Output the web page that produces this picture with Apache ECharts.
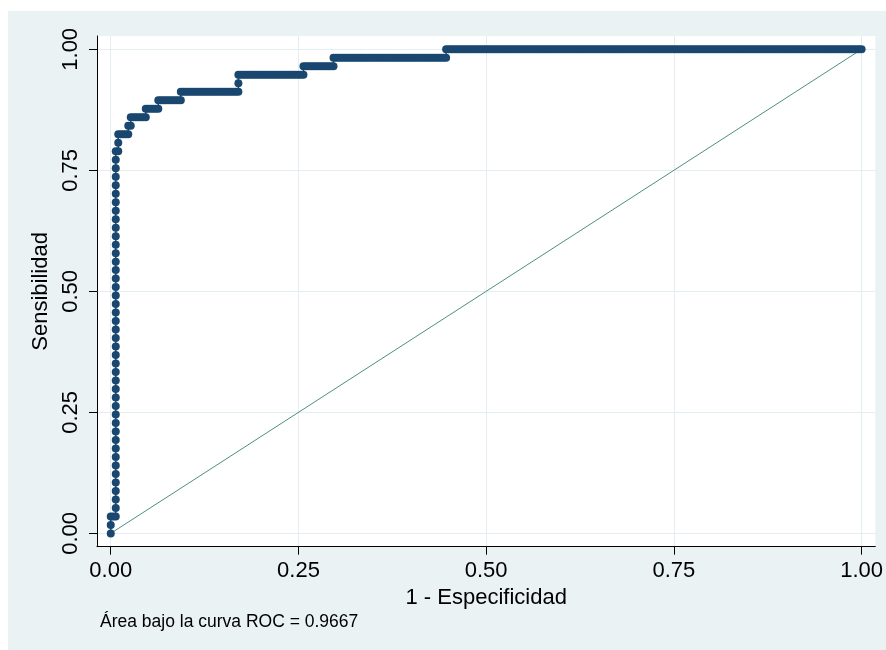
<!DOCTYPE html>
<html><head><meta charset="utf-8">
<script src="https://cdn.jsdelivr.net/npm/echarts@6/dist/echarts.min.js"></script>
<style>html,body{margin:0;padding:0;background:#fff}#c{width:886px;height:650px}</style>
</head><body><div id="c"></div>
<script>
// ROC: cumulative counts of false positives (of nNeg) and true positives (of nPos) at each cutpoint
const nNeg = 300;
const nPos = 57;
const falsePosCounts = [
  0,0,0,1,2,
  2,2,2,2,2,2,2,2,2,2,
  2,2,2,2,2,2,2,2,2,2,
  2,2,2,2,2,2,2,2,2,2,
  2,2,2,2,2,2,2,2,2,2,
  2,2,2,
  3,3,3,4,5,6,7,7,8,8,
  9,10,11,12,13,14,14,15,16,17,18,19,19,
  20,21,22,23,24,25,26,27,28,28,
  29,30,31,32,33,34,35,36,37,38,39,40,41,42,43,44,45,46,47,48,49,50,51,
  51,51,
  52,53,54,55,56,57,58,59,60,61,62,63,64,65,66,67,68,69,70,71,72,73,74,75,76,77,
  77,
  78,79,80,81,82,83,84,85,86,87,88,89,
  89,
  90,91,92,93,94,95,96,97,98,99,100,101,102,103,104,105,106,107,108,109,
  110,111,112,113,114,115,116,117,118,119,120,121,122,123,124,125,126,127,128,129,
  130,131,132,133,134,
  134,
  135,136,137,138,139,140,141,142,143,144,145,146,147,148,149,150,151,152,153,154,
  155,156,157,158,159,160,161,162,163,164,165,166,167,168,169,170,171,172,173,174,
  175,176,177,178,179,180,181,182,183,184,185,186,187,188,189,190,191,192,193,194,
  195,196,197,198,199,200,201,202,203,204,205,206,207,208,209,210,211,212,213,214,
  215,216,217,218,219,220,221,222,223,224,225,226,227,228,229,230,231,232,233,234,
  235,236,237,238,239,240,241,242,243,244,245,246,247,248,249,250,251,252,253,254,
  255,256,257,258,259,260,261,262,263,264,265,266,267,268,269,270,271,272,273,274,
  275,276,277,278,279,280,281,282,283,284,285,286,287,288,289,290,291,292,293,294,
  295,296,297,298,299,300
];
const truePosCounts = [
  0,1,2,2,2,
  3,4,5,6,7,8,9,10,11,12,
  13,14,15,16,17,18,19,20,21,22,
  23,24,25,26,27,28,29,30,31,32,
  33,34,35,36,37,38,39,40,41,42,
  43,44,45,
  45,46,47,47,47,47,47,48,48,49,
  49,49,49,49,49,49,50,50,50,50,50,50,51,
  51,51,51,51,51,51,51,51,51,52,
  52,52,52,52,52,52,52,52,52,52,52,52,52,52,52,52,52,52,52,52,52,52,52,
  53,54,
  54,54,54,54,54,54,54,54,54,54,54,54,54,54,54,54,54,54,54,54,54,54,54,54,54,54,
  55,
  55,55,55,55,55,55,55,55,55,55,55,55,
  56,
  56,56,56,56,56,56,56,56,56,56,56,56,56,56,56,56,56,56,56,56,
  56,56,56,56,56,56,56,56,56,56,56,56,56,56,56,56,56,56,56,56,
  56,56,56,56,56,
  57,
  57,57,57,57,57,57,57,57,57,57,57,57,57,57,57,57,57,57,57,57,
  57,57,57,57,57,57,57,57,57,57,57,57,57,57,57,57,57,57,57,57,
  57,57,57,57,57,57,57,57,57,57,57,57,57,57,57,57,57,57,57,57,
  57,57,57,57,57,57,57,57,57,57,57,57,57,57,57,57,57,57,57,57,
  57,57,57,57,57,57,57,57,57,57,57,57,57,57,57,57,57,57,57,57,
  57,57,57,57,57,57,57,57,57,57,57,57,57,57,57,57,57,57,57,57,
  57,57,57,57,57,57,57,57,57,57,57,57,57,57,57,57,57,57,57,57,
  57,57,57,57,57,57,57,57,57,57,57,57,57,57,57,57,57,57,57,57,
  57,57,57,57,57,57
];
const refLineX = [0, 1];
const refLineY = [0, 1];
const tickValues = [0, 0.25, 0.5, 0.75, 1];
const tickLabels = ['0.00', '0.25', '0.50', '0.75', '1.00'];
const xTitle = '1 - Especificidad';
const yTitle = 'Sensibilidad';
const noteText = 'Área bajo la curva ROC = 0.9667';

const rocPoints = falsePosCounts.map((f, i) => [f / nNeg, truePosCounts[i] / nPos]);
const refPoints = refLineX.map((x, i) => [x, refLineY[i]]);
const fmt = v => { const i = tickValues.findIndex(t => Math.abs(t - v) < 1e-9); return i >= 0 ? tickLabels[i] : ''; };
const FONT = "'Liberation Sans', Arial, sans-serif";
const BG = '#EAF2F3';

const chart = echarts.init(document.getElementById('c'), null, { renderer: 'canvas' });
chart.setOption({
  animation: false,
  backgroundColor: BG,
  textStyle: { fontFamily: FONT },
  graphic: [
    { type: 'rect', shape: { x: 0, y: 0, width: 886, height: 11 }, style: { fill: '#fff' }, silent: true },
    { type: 'rect', shape: { x: 0, y: 0, width: 8, height: 650 }, style: { fill: '#fff' }, silent: true },
    { type: 'text', left: 100, top: 613, style: { text: noteText, font: '17.5px ' + FONT, fill: '#000' }, silent: true }
  ],
  grid: { left: 97, right: 9, top: 36, bottom: 103.3, show: true, backgroundColor: '#fff', borderWidth: 0 },
  xAxis: {
    type: 'value', min: -0.0183, max: 1.0183,
    axisLine: { show: true, onZero: false, lineStyle: { color: '#000', width: 1 } },
    axisTick: { show: true, customValues: tickValues, length: 8, lineStyle: { color: '#000' } },
    axisLabel: { customValues: tickValues, formatter: fmt, fontSize: 22, color: '#000', margin: 13, fontFamily: FONT },
    splitLine: { show: true, lineStyle: { color: '#E4EDEF', width: 1 } },
    name: xTitle, nameLocation: 'middle', nameGap: 31,
    nameTextStyle: { fontSize: 22, color: '#000', fontFamily: FONT }
  },
  yAxis: {
    type: 'value', min: -0.0275, max: 1.0275,
    axisLine: { show: true, onZero: false, lineStyle: { color: '#000', width: 1 } },
    axisTick: { show: true, customValues: tickValues, length: 8, lineStyle: { color: '#000' } },
    axisLabel: { customValues: tickValues, formatter: fmt, rotate: 90, fontSize: 22, color: '#000', margin: 15, fontFamily: FONT },
    splitLine: { show: true, lineStyle: { color: '#E4EDEF', width: 1 } },
    name: yTitle, nameLocation: 'middle', nameRotate: 90, nameGap: 40,
    nameTextStyle: { fontSize: 22, color: '#000', fontFamily: FONT }
  },
  series: [
    {
      type: 'line', data: refPoints, symbol: 'none', z: 2, silent: true,
      lineStyle: { color: '#4F8F80', width: 1 }
    },
    {
      type: 'line', data: rocPoints, symbol: 'circle', symbolSize: 8, showSymbol: true, z: 3, silent: true,
      itemStyle: { color: '#1A476F', borderWidth: 0 },
      lineStyle: { color: '#1A476F', width: 1.5 }
    }
  ]
});
</script></body></html>
